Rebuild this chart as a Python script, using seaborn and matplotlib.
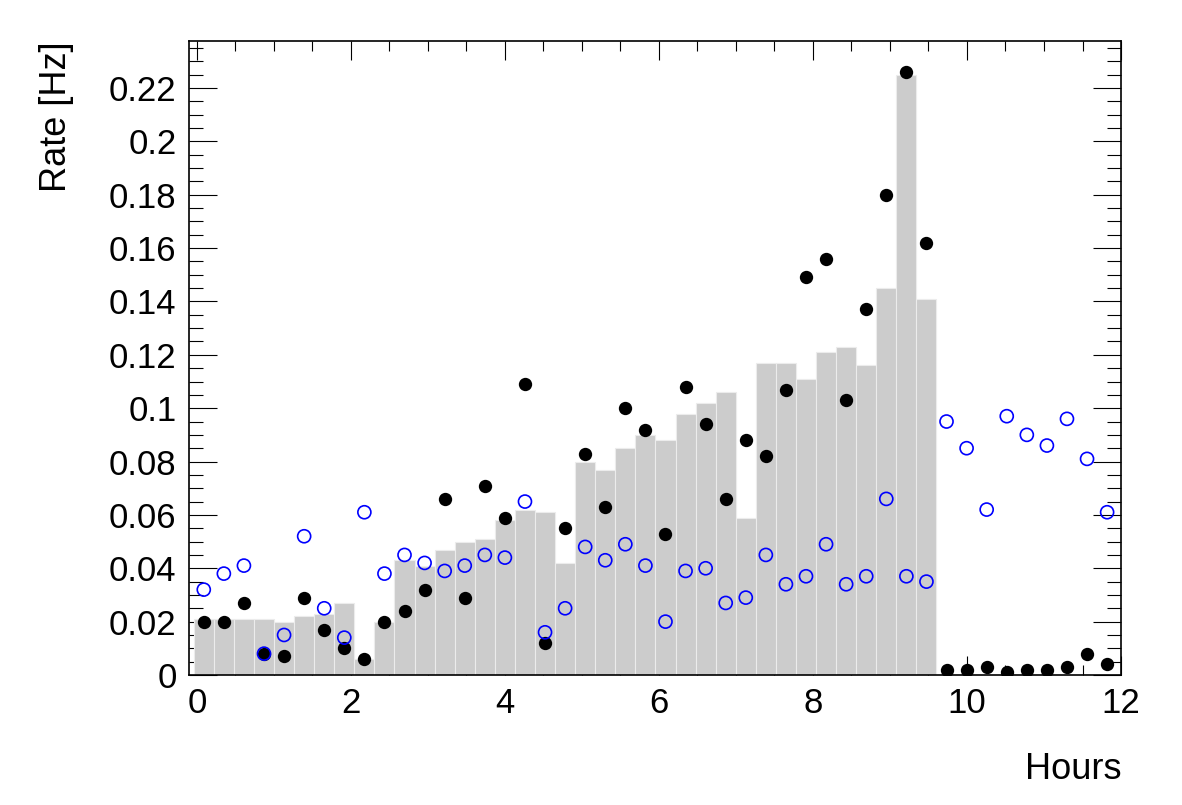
import numpy as np
import pandas as pd
import matplotlib
matplotlib.use('Agg')
import matplotlib.pyplot as plt
from matplotlib.ticker import MultipleLocator, FixedLocator, FixedFormatter
import seaborn as sns

# bins of the time axis (hours), 46 bins
bin_edges = np.linspace(-0.04, 11.95, 47)
bin_centers = 0.5 * (bin_edges[:-1] + bin_edges[1:])

# grey histogram (only the first 37 bins are filled)
bar_rate = [0.021, 0.021, 0.021, 0.021, 0.020, 0.022, 0.023, 0.027, 0.006, 0.020,
            0.043, 0.041, 0.047, 0.050, 0.051, 0.058, 0.062, 0.061, 0.042, 0.080,
            0.077, 0.085, 0.090, 0.088, 0.098, 0.102, 0.106, 0.059, 0.117, 0.117,
            0.111, 0.121, 0.123, 0.116, 0.145, 0.225, 0.141]

# black filled markers
black_rate = [0.020, 0.020, 0.027, 0.008, 0.007, 0.029, 0.017, 0.010, 0.006, 0.020,
              0.024, 0.032, 0.066, 0.029, 0.071, 0.059, 0.109, 0.012, 0.055, 0.083,
              0.063, 0.100, 0.092, 0.053, 0.108, 0.094, 0.066, 0.088, 0.082, 0.107,
              0.149, 0.156, 0.103, 0.137, 0.180, 0.226, 0.162, 0.002, 0.002, 0.003,
              0.001, 0.002, 0.002, 0.003, 0.008, 0.004]

# blue open markers
blue_rate = [0.032, 0.038, 0.041, 0.008, 0.015, 0.052, 0.025, 0.014, 0.061, 0.038,
             0.045, 0.042, 0.039, 0.041, 0.045, 0.044, 0.065, 0.016, 0.025, 0.048,
             0.043, 0.049, 0.041, 0.020, 0.039, 0.040, 0.027, 0.029, 0.045, 0.034,
             0.037, 0.049, 0.034, 0.037, 0.066, 0.037, 0.035, 0.095, 0.085, 0.062,
             0.097, 0.090, 0.086, 0.096, 0.081, 0.061]

y_ticks = [0, 0.02, 0.04, 0.06, 0.08, 0.1, 0.12, 0.14, 0.16, 0.18, 0.2, 0.22]
x_ticks = [0, 2, 4, 6, 8, 10, 12]

sns.set_style('ticks')
plt.rcParams['font.family'] = ['Liberation Sans', 'DejaVu Sans']
plt.rcParams['text.color'] = 'black'
plt.rcParams['axes.labelcolor'] = 'black'
plt.rcParams['xtick.color'] = 'black'
plt.rcParams['ytick.color'] = 'black'

fig = plt.figure(figsize=(11.82, 8.05), dpi=100)
ax = fig.add_axes([0.160, 0.1615, 0.7884, 0.7875])

hist_df = pd.DataFrame({'hours': bin_centers[:len(bar_rate)], 'rate': bar_rate})
sns.histplot(data=hist_df, x='hours', weights='rate', bins=list(bin_edges), ax=ax,
             color='#cccccc', alpha=1, edgecolor='#ececec', linewidth=0.8)

pts = pd.DataFrame({'hours': bin_centers, 'black': black_rate, 'blue': blue_rate})
sns.scatterplot(data=pts, x='hours', y='black', ax=ax, color='black',
                edgecolor='black', linewidth=0, s=92, zorder=3)
sns.scatterplot(data=pts, x='hours', y='blue', ax=ax, facecolor='none',
                edgecolor='blue', linewidth=1.2, s=88, zorder=4)

ax.set_xlim(-0.1, 12.0)
ax.set_ylim(0, 0.2376)

ax.xaxis.set_major_locator(FixedLocator(x_ticks))
ax.xaxis.set_major_formatter(FixedFormatter([str(v) for v in x_ticks]))
ax.xaxis.set_minor_locator(MultipleLocator(0.5))
ax.yaxis.set_major_locator(FixedLocator(y_ticks))
ax.yaxis.set_major_formatter(FixedFormatter([f'{v:g}' for v in y_ticks]))
ax.yaxis.set_minor_locator(MultipleLocator(0.005))

ax.tick_params(axis='both', which='both', direction='in', top=True, right=True,
               width=0.8, color='black', labelcolor='black', labelsize=25)
ax.tick_params(axis='x', which='major', length=14, pad=9)
ax.tick_params(axis='x', which='minor', length=7)
ax.tick_params(axis='y', which='major', length=20, pad=9)
ax.tick_params(axis='y', which='minor', length=10)

for side in ax.spines.values():
    side.set_linewidth(1.2)
    side.set_color('black')

ax.set_xlabel('Hours', fontsize=26, loc='right', color='black')
ax.set_ylabel('Rate [Hz]', fontsize=26, loc='top', color='black')
ax.xaxis.set_label_coords(1.0, -0.121)
ax.yaxis.set_label_coords(-0.124, 1.0)

plt.savefig('out.png', dpi=100)
